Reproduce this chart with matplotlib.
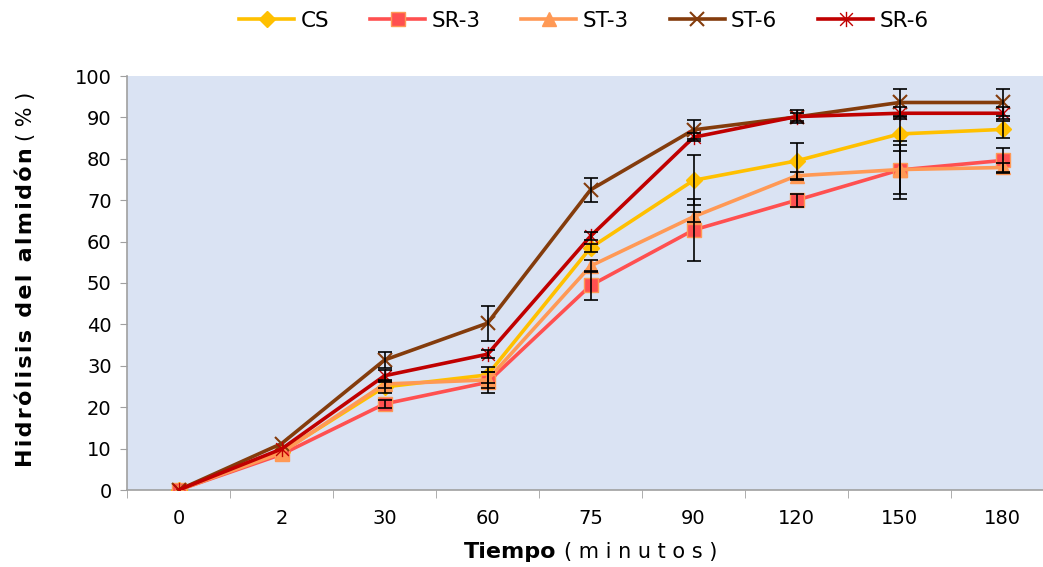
import numpy as np
import matplotlib
matplotlib.use("Agg")
import matplotlib.pyplot as plt
from matplotlib.path import Path

times = ["0", "2", "30", "60", "75", "90", "120", "150", "180"]

cs = [0, 9.2, 24.9, 27.8, 58.5, 74.8, 79.5, 86.0, 87.1]
sr3 = [0, 8.6, 20.8, 26.0, 49.4, 62.8, 70.0, 77.3, 79.6]
st3 = [0, 9.0, 25.6, 26.6, 54.1, 66.0, 75.9, 77.4, 77.9]
st6 = [0, 11.2, 31.4, 40.3, 72.5, 87.0, 90.1, 93.6, 93.6]
sr6 = [0, 9.9, 27.6, 32.8, 61.3, 85.2, 90.2, 91.0, 91.0]

# standard deviations (0 = no bar drawn)
cs_err = [0, 0, 1.5, 2.0, 1.0, 6.0, 4.4, 4.0, 2.0]
sr3_err = [0, 0, 1.0, 2.5, 3.5, 7.6, 1.6, 7.0, 3.0]
st3_err = [0, 0, 1.0, 2.0, 1.5, 1.2, 1.0, 6.0, 1.0]
st6_err = [0, 0, 2.0, 4.2, 2.9, 2.3, 1.0, 3.3, 3.3]
sr6_err = [0, 0, 1.5, 1.0, 1.0, 1.0, 1.5, 1.5, 1.5]

labels = ["CS", "SR-3", "ST-3", "ST-6", "SR-6"]
colors = ["#FFC000", "#FF5050", "#FF9955", "#843C0C", "#C00000"]

# asterisk marker like the spreadsheet "star"
star = Path([(-1, -1), (1, 1), (-1, 1), (1, -1), (0, -1.2), (0, 1.2)],
            [Path.MOVETO, Path.LINETO, Path.MOVETO, Path.LINETO, Path.MOVETO, Path.LINETO])
markers = ["D", "s", "^", "x", star]
msizes = [8, 10, 10, 10, 11]


def spaced(s, sep="\u200a"):
    return sep.join(s)


W, H = 1043, 567
fig = plt.figure(figsize=(W / 100, H / 100), dpi=100)
# plot area runs past the right edge of the picture, as in the original
ax = fig.add_axes([127 / W, (H - 490) / H, (1054 - 127) / W, (490 - 76) / H])
ax.set_facecolor("#DAE3F3")

x = np.arange(len(times))
series = [cs, sr3, st3, st6, sr6]
errs = [cs_err, sr3_err, st3_err, st6_err, sr6_err]
for i, (vals, lab, col, mk, ms) in enumerate(zip(series, labels, colors, markers, msizes)):
    ax.plot(x, vals, color=col, lw=2.6, marker=mk, ms=ms, mfc=col,
            mec="#FF9955" if mk == "s" else col, mew=1.5 if mk == "x" else 1.0,
            label=lab, zorder=3 + i)
for vals, e in zip(series, errs):
    e = np.array(e, dtype=float)
    keep = e > 0
    ax.errorbar(x[keep], np.array(vals)[keep], yerr=e[keep], fmt="none", ecolor="black",
                elinewidth=1.2, capsize=5, capthick=1.2, zorder=10)

ax.set_xlim(-0.5, len(times) - 0.5)
ax.set_ylim(0, 100)
ax.set_yticks(np.arange(0, 101, 10))
ax.set_xticks(x)
ax.set_xticklabels(times)
ax.set_xticks(np.arange(-0.5, len(times), 1), minor=True)
ax.tick_params(axis="x", which="major", length=0, pad=14, labelsize=14)
ax.tick_params(axis="x", which="minor", length=6, color="#A0A0A0", direction="out")
ax.tick_params(axis="y", length=5, color="#A0A0A0", direction="out", pad=6, labelsize=14)
for s in ["top", "right"]:
    ax.spines[s].set_visible(False)
for s in ["left", "bottom"]:
    ax.spines[s].set_color("#A0A0A0")
    ax.spines[s].set_linewidth(1.2)

fig.text(556 / W, 1 - 552 / H, "Tiempo", fontsize=16, fontweight="bold", ha="right", va="center")
fig.text(564 / W, 1 - 552 / H, spaced("(minutos)", " "), fontsize=15, ha="left", va="center")
fig.text(26 / W, 1 - 467 / H, spaced("Hidrólisis del almidón"), fontsize=16, fontweight="bold",
         rotation=90, ha="center", va="bottom")
fig.text(26 / W, 1 - 141 / H, spaced("(%)", " "), fontsize=15, rotation=90, ha="center", va="bottom")

fig.legend(loc="center", bbox_to_anchor=(584 / W, 1 - 21 / H), ncol=5, frameon=False,
           fontsize=15.5, handlelength=2.55, handletextpad=0.3, columnspacing=1.9,
           borderaxespad=0)

fig.savefig("out.png", dpi=100)
